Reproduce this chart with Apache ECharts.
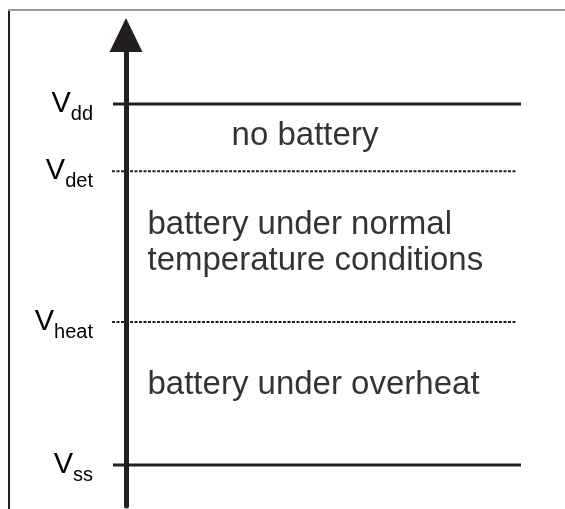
<!DOCTYPE html>
<html><head><meta charset="utf-8">
<script src="https://cdn.jsdelivr.net/npm/echarts@6/dist/echarts.min.js"></script>
<style>html,body{margin:0;padding:0;background:#fff}#c{width:565px;height:509px}</style>
</head><body><div id="c"></div>
<script>
// Voltage levels (subscript names and values in volts)
const levelNames = ['dd', 'det', 'heat', 'ss'];
const levelValues = [5.0, 4.07, 1.98, 0.0];
const levelKinds = ['rail', 'threshold', 'threshold', 'rail'];
// Region descriptions (between consecutive levels)
const regionTexts = ['no battery', 'battery under normal\ntemperature conditions', 'battery under overheat'];

const ink = '#231f20';
const textInk = '#000000';
const font = "'Liberation Sans', Arial, Helvetica, sans-serif";
const chart = echarts.init(document.getElementById('c'), null, {renderer: 'canvas'});

const lineSeries = levelValues.map((v, i) => {
  const rail = levelKinds[i] === 'rail';
  return {
    type: 'line', symbol: 'none', clip: false, silent: true, z: 3,
    data: rail ? [[-13, v], [395, v]] : [[-14, v], [391, v]],
    lineStyle: {color: ink, width: rail ? 3 : 2, type: rail ? 'solid' : [3, 1.5]}
  };
});

const regionNudge = [-2, -4, -9];
const regionSeries = {
  type: 'scatter', symbolSize: 1, silent: true, clip: false, z: 4,
  itemStyle: {color: 'rgba(0,0,0,0)'},
  data: regionTexts.map((t, i) => ({
    value: [i === 0 ? 179 : 21, (levelValues[i] + levelValues[i + 1]) / 2],
    label: {
      show: true, formatter: t,
      position: i === 0 ? 'inside' : 'right', distance: 0,
      align: i === 0 ? 'center' : 'left', verticalAlign: 'middle',
      offset: [0, regionNudge[i]],
      fontSize: 33, lineHeight: 36, color: textInk, fontFamily: font
    }
  }))
};

chart.setOption({
  animation: false,
  grid: {left: 112, right: 44, top: 35, bottom: 3, containLabel: false},
  xAxis: {type: 'value', min: -14, max: 395, show: false},
  yAxis: {
    type: 'value', min: -0.568, max: 5.956,
    splitLine: {show: false}, axisTick: {show: false},
    axisLine: {show: true, onZero: true, lineStyle: {color: ink, width: 5}, symbol: ['none', 'triangle'], symbolSize: [33, 34]},
    axisLabel: {
      customValues: levelValues, margin: 19,
      formatter: function (v) {
        const i = levelValues.findIndex(x => Math.abs(x - v) < 1e-6);
        return i < 0 ? '' : '{v|V}{s|' + levelNames[i] + '}';
      },
      rich: {
        v: {fontSize: 29, lineHeight: 40, verticalAlign: 'middle', color: textInk, fontFamily: font},
        s: {fontSize: 20, lineHeight: 20, verticalAlign: 'bottom', color: textInk, fontFamily: font}
      }
    }
  },
  graphic: [
    {type: 'line', shape: {x1: 9, y1: 10, x2: 9, y2: 509}, style: {stroke: ink, lineWidth: 2}},
    {type: 'line', shape: {x1: 8, y1: 10, x2: 565, y2: 10}, style: {stroke: '#9a9a9a', lineWidth: 2}}
  ],
  series: lineSeries.concat([regionSeries])
});
</script></body></html>
